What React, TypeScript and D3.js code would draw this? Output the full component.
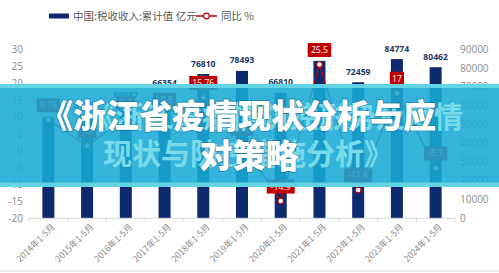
import React from 'react';
import * as d3 from 'd3';

// 数据
const years = ['2014', '2015', '2016', '2017', '2018', '2019', '2020', '2021', '2022', '2023', '2024'];
const categories = years.map(y => `${y}年1-5月`);
const taxRevenue = [53780, 54590, 59887, 66354, 76810, 78493, 66810, 83847, 72459, 84774, 80462];
const yoyGrowth = [9.16, 1.5, 9.7, 10.8, 15.76, 2.19, -14.9, 25.5, -11.6, 17, -5.1];
const yoyLabels = ['9.16', '1.5', '9.7', '10.8', '15.76', '2.19', '-14.9', '25.5', '-11.6', '17', '-5.1'];
const leftTicks = [30, 25, 20, 15, 10, 5, 0, -5, -10, -15, -20];
const rightTicks = [90000, 80000, 70000, 60000, 50000, 40000, 30000, 20000, 10000, 0];
const legendBar = '中国:税收收入:累计值 亿元';
const legendLine = '同比 %';
const titleLines = ['《浙江省疫情现状分析与应', '对策略'];
const ghostLines = ['《浙江省疫情防控形势及疫情', '现状与防控措施分析》'];

const W = 499;
const H = 273;
const plot = { left: 29, right: 455, top: 49.3, bottom: 218.3 };

const NAVY = '#0e2a6e';
const RED = '#c00000';
const AXIS_TEXT = '#8c8c8c';
const NUM_FONT = '"Open Sans", "Liberation Sans", sans-serif';
const CJK_FONT = '"Noto Sans CJK SC", "Noto Sans", sans-serif';

const App = () => {
  const x = d3.scalePoint<string>().domain(categories).range([plot.left, plot.right]).padding(0.5);
  const step = x.step();
  const barW = step * 0.31;
  const yLeft = d3.scaleLinear().domain([-20, 30]).range([plot.bottom, plot.top]);
  const yRight = d3.scaleLinear().domain([0, 90000]).range([plot.bottom, plot.top]);

  const line = d3.line<number>()
    .x((d, i) => x(categories[i]) as number)
    .y(d => yLeft(d));

  const boundaries = d3.range(categories.length + 1).map(i => plot.left + i * step);

  return (
    <>
      <style>{'body{margin:0}'}</style>
      <svg width={W} height={H} viewBox={`0 0 ${W} ${H}`} style={{ display: 'block', background: '#fff' }}>
        {/* 图例 */}
        <rect x={49} y={13.5} width={20} height={5} fill={NAVY} />
        <text x={73} y={20} fontSize={10.5} fill="#595959" fontFamily={CJK_FONT}>{legendBar}</text>
        <line x1={196} x2={217} y1={16} y2={16} stroke={RED} strokeWidth={1.5} />
        <circle cx={206.5} cy={16} r={2.8} fill="#fff" stroke={RED} strokeWidth={1.2} />
        <text x={221} y={20} fontSize={10.5} fill="#595959" fontFamily={CJK_FONT}>{legendLine}</text>

        {/* 左轴 */}
        {leftTicks.map(t => (
          <text key={`l${t}`} x={23} y={yLeft(t)} dy="0.35em" textAnchor="end" fontSize={10}
            fill={AXIS_TEXT} fontFamily={NUM_FONT}>{t}</text>
        ))}
        {/* 右轴 */}
        {rightTicks.map(t => (
          <text key={`r${t}`} x={460} y={yRight(t)} dy="0.35em" fontSize={10}
            fill={AXIS_TEXT} fontFamily={NUM_FONT}>{t}</text>
        ))}

        {/* 柱 */}
        {taxRevenue.map((v, i) => (
          <rect key={`b${i}`} x={(x(categories[i]) as number) - barW / 2} y={yRight(v)}
            width={barW} height={plot.bottom - yRight(v)} fill={NAVY} />
        ))}
        {taxRevenue.map((v, i) => (
          <text key={`bl${i}`} x={x(categories[i])} y={yRight(v) - 10.5} dy="0.35em" textAnchor="middle"
            fontSize={8.6} fontWeight="bold" fill="#203864" fontFamily={NUM_FONT}>{v}</text>
        ))}

        {/* X 轴 */}
        <line x1={plot.left} x2={plot.right} y1={plot.bottom} y2={plot.bottom} stroke="#d9d9d9" strokeWidth={1} />
        {boundaries.map((b, i) => (
          <line key={`t${i}`} x1={b} x2={b} y1={plot.bottom} y2={plot.bottom + 4} stroke="#d9d9d9" strokeWidth={1} />
        ))}
        {categories.map(c => (
          <text key={c} transform={`translate(${(x(c) as number) + 5},${plot.bottom + 7}) rotate(-45)`}
            textAnchor="end" dy="0.35em" fontSize={8.8} fill={AXIS_TEXT} fontFamily={CJK_FONT}>{c}</text>
        ))}

        {/* 同比折线 */}
        <path d={line(yoyGrowth) || ''} fill="none" stroke={RED} strokeWidth={1.2} />
        {yoyGrowth.map((v, i) => (
          <circle key={`m${i}`} cx={x(categories[i])} cy={yLeft(v)} r={2.8} fill="#fff" stroke={RED} strokeWidth={1.1} />
        ))}
        {yoyGrowth.map((v, i) => {
          const label = yoyLabels[i];
          const w = label.length * 4.6 + 5;
          const cx = x(categories[i]) as number;
          const cy = yLeft(v) - 14.5;
          return (
            <g key={`yl${i}`}>
              <rect x={cx - w / 2} y={cy - 7} width={w} height={14} fill={RED} />
              <text x={cx} y={cy} dy="0.35em" textAnchor="middle" fontSize={8.6} fill="#fff"
                fontFamily={NUM_FONT}>{label}</text>
            </g>
          );
        })}

        {/* 标题横幅 */}
        <rect x={0} y={84} width={W} height={103} fill="rgb(24,170,213)" opacity={0.88} />
        <rect x={0} y={84} width={W} height={4} fill="#66d6e5" opacity={0.95} />
        <rect x={0} y={182.5} width={W} height={4.5} fill="#66d6e5" opacity={0.95} />

        <text x={463} y={117.5} dy="0.36em" textAnchor="end" fontSize={29} fontWeight="bold"
          fill="#79dbe9" fontFamily={CJK_FONT}>{ghostLines[0]}</text>
        <text x={103} y={155} dy="0.36em" fontSize={29} fontWeight="bold"
          fill="#79dbe9" fontFamily={CJK_FONT}>{ghostLines[1]}</text>

        <text x={238} y={116.5} dy="0.36em" textAnchor="middle" fontSize={33} fontWeight={900}
          fill="#fff" stroke="rgba(0,70,110,0.4)" strokeWidth={1.6} paintOrder="stroke"
          fontFamily={CJK_FONT}>{titleLines[0]}</text>
        <text x={249} y={156} dy="0.36em" textAnchor="middle" fontSize={33} fontWeight={900}
          fill="#fff" stroke="rgba(0,70,110,0.4)" strokeWidth={1.6} paintOrder="stroke"
          fontFamily={CJK_FONT}>{titleLines[1]}</text>

        <line x1={0} x2={W} y1={271} y2={271} stroke="#ececec" strokeWidth={2} />
      </svg>
    </>
  );
};

export default App;
